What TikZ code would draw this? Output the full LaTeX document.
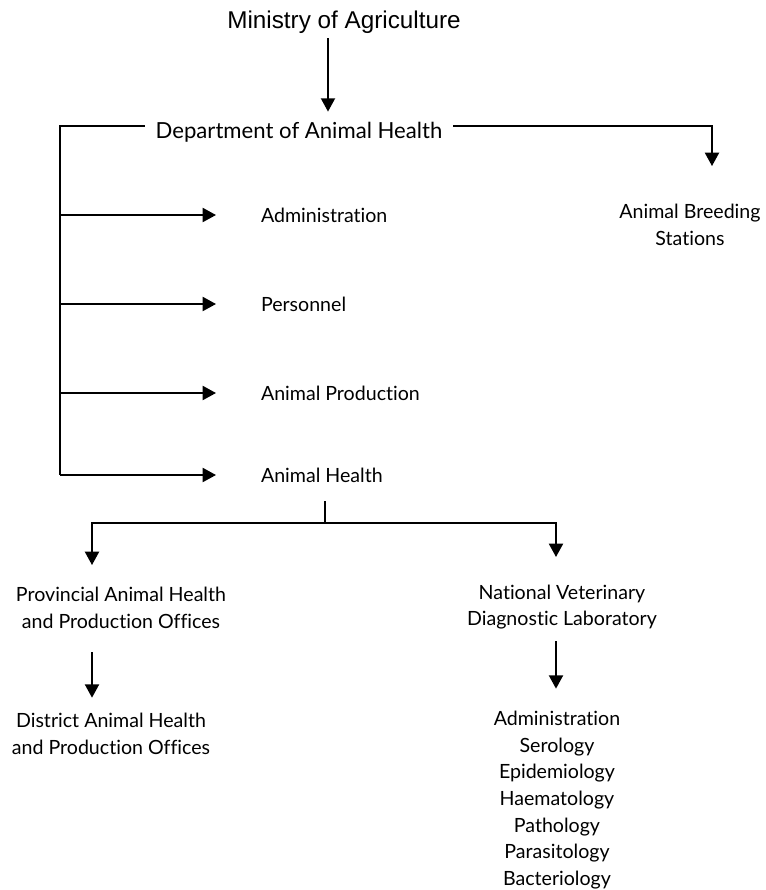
\documentclass[tikz,border=0pt]{standalone}
\usepackage{fontspec}
\setmainfont{Lato}[Ligatures = NoCommon]
\newfontfamily\ministryfont{Liberation Sans}
\usepackage{tikz}
\usetikzlibrary{arrows.meta, positioning}

\begin{document}
\begin{tikzpicture}[x = 0.75pt, y = -0.75pt, line width = 1.5pt,
		lbl/.style = {inner sep = 0pt, align = center, font = \fontsize{14.7}{20}\selectfont},
		arr/.style = {-{Triangle[length = 10pt, width = 10.5pt]}}]
		\useasboundingbox (0, 0) rectangle (766, 890);
		\node[inner sep = 0pt, font = \ministryfont\fontsize{18.2}{20}\selectfont] (ministry) at (344, 22) {Ministry of Agriculture};
		\node[lbl, inner xsep = 7.5pt, font = \fontsize{16.6}{20}\selectfont] (dept) at (299, 132) {Department of Animal Health};
		\node[lbl] (breeding) at (690, 225) {Animal Breeding\\Stations};
		\node[lbl, anchor = west] (admin) at (260, 215) {Administration};
		\node[lbl, anchor = west] (personnel) at (260, 304) {Personnel};
		\node[lbl, anchor = west] (production) at (260, 393) {Animal Production};
		\node[lbl, anchor = west] (health) at (260, 475) {Animal Health};
		\node[lbl] (provincial) at (121, 608) {Provincial Animal Health\\and Production Offices};
		\node[lbl] (district) at (111, 734) {District Animal Health\\and Production Offices};
		\node[lbl] (nvdl) at (562, 607) {National Veterinary\\Diagnostic Laboratory};
		\node[lbl] (sections) at (557, 800) {Administration\\Serology\\Epidemiology\\Haematology\\Pathology\\Parasitology\\Bacteriology};
		\coordinate (m) at (328, 0);
		\coordinate (bl) at (60, 126);
		\coordinate (bs) at (712, 126);
		\coordinate (hb) at (325, 523);
		\coordinate (pl) at (92, 523);
		\coordinate (pr) at (556, 523);
		\draw[arr, shorten <= 3pt, shorten >= 7pt] (ministry.south -| m) -- (dept.north -| m);
		\draw (dept.west |- bl) -- (bl) -- (bl |- health.west);
		\draw[arr, shorten >= 28pt] (dept.east |- bl) -- (bs) -- (bs |- breeding.north);
		\foreach \n in {admin, personnel, production, health}
			\draw[arr, shorten >= 33pt] (bl |- \n.west) -- (\n.west);
		\draw[shorten <= 13.5pt] (health.south -| hb) -- (hb);
		\draw[arr, shorten >= 16pt] (hb) -- (pl) -- (pl |- provincial.north);
		\draw[arr, shorten >= 20pt] (hb) -- (pr) -- (pr |- nvdl.north);
		\draw[arr, shorten <= 17pt, shorten >= 11pt] (provincial.south -| pl) -- (district.north -| pl);
		\draw[arr, shorten <= 8pt, shorten >= 16pt] (nvdl.south -| pr) -- (sections.north -| pr);
		\end{tikzpicture}
\end{document}
